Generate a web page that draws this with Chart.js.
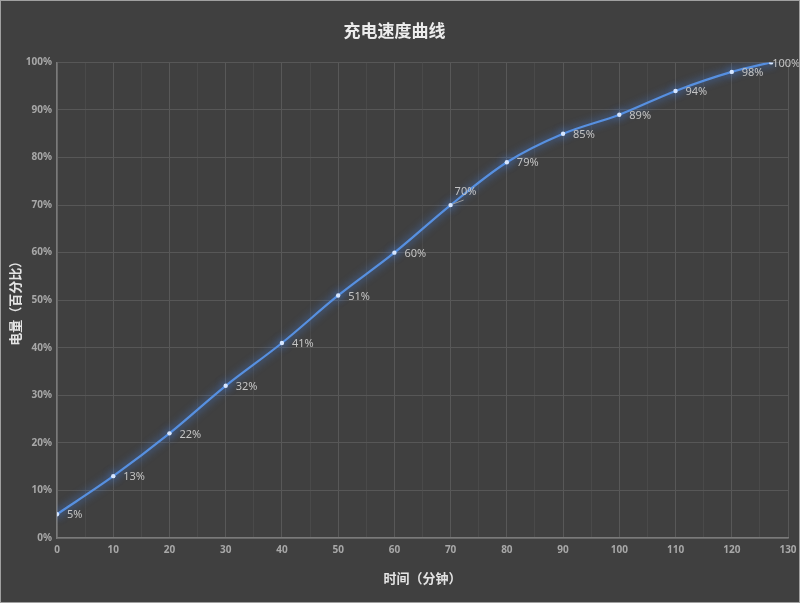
<!DOCTYPE html>
<html>
<head>
<meta charset="utf-8">
<script src="https://cdn.jsdelivr.net/npm/chart.js@4"></script>
<style>
  html, body { margin: 0; padding: 0; background: #404040; }
  #wrap { width: 800px; height: 603px; box-sizing: border-box; border: 1px solid #a0a0a0; }
  canvas { display: block; }
</style>
</head>
<body>
<div id="wrap"><canvas id="chargeChart" width="798" height="601"></canvas></div>
<script>
// Datos del gráfico
const minutes = [0, 10, 20, 30, 40, 50, 60, 70, 80, 90, 100, 110, 120, 127];
const battery = [5, 13, 22, 32, 41, 51, 60, 70, 79, 85, 89, 94, 98, 100];
const xTicks = [0, 10, 20, 30, 40, 50, 60, 70, 80, 90, 100, 110, 120, 130];
const yTicks = [0, 10, 20, 30, 40, 50, 60, 70, 80, 90, 100];

const tickFont = { family: 'Noto Sans', size: 10, weight: 'bold' };
const cjk = 'Noto Sans CJK SC';

/* fondo oscuro */
const bgPlugin = {
    id: 'bg',
    beforeDraw(chart) {
        const c = chart.ctx;
        c.save();
        c.fillStyle = '#404040';
        c.fillRect(0, 0, chart.width, chart.height);
        c.restore();
    }
};

/* brillo de la línea */
const glowPlugin = {
    id: 'glow',
    beforeDatasetDraw(chart) {
        chart.ctx.save();
        chart.ctx.shadowColor = 'rgba(70, 140, 255, 0.9)';
        chart.ctx.shadowBlur = 9;
    },
    afterDatasetDraw(chart) {
        chart.ctx.restore();
    }
};

/* etiquetas de porcentaje */
const labelPlugin = {
    id: 'pctLabels',
    afterDatasetsDraw(chart) {
        const c = chart.ctx;
        const meta = chart.getDatasetMeta(0);
        c.save();
        c.font = '11px "Noto Sans"';
        c.fillStyle = '#c4c4c4';
        c.textBaseline = 'middle';
        c.textAlign = 'left';
        meta.data.forEach((pt, i) => {
            const txt = battery[i] + '%';
            if (battery[i] === 70) {
                c.strokeStyle = '#9a9a9a';
                c.lineWidth = 1;
                c.beginPath();
                c.moveTo(pt.x + 2, pt.y - 1);
                c.lineTo(pt.x + 13, pt.y - 5);
                c.stroke();
                c.fillText(txt, pt.x + 4, pt.y - 13);
            } else if (i === meta.data.length - 1) {
                c.fillText(txt, pt.x + 1, pt.y + 1);
            } else {
                c.fillText(txt, pt.x + 10, pt.y + 1);
            }
        });
        c.restore();
    }
};

const ctx = document.getElementById('chargeChart').getContext('2d');

new Chart(ctx, {
    type: 'line',
    data: {
        datasets: [{
            label: '电量',
            data: minutes.map((m, i) => ({ x: m, y: battery[i] })),
            borderColor: '#5790e0',
            borderWidth: 2.2,
            tension: 0.4,
            cubicInterpolationMode: 'monotone',
            pointRadius: 2.2,
            pointBackgroundColor: '#d6e6ff',
            pointBorderWidth: 0,
            fill: false
        }]
    },
    options: {
        responsive: false,
        animation: false,
        layout: { padding: { left: 0, right: 11, top: 0, bottom: 0 } },
        plugins: {
            legend: { display: false },
            tooltip: { enabled: false },
            title: {
                display: true,
                text: '充电速度曲线',
                color: '#ececec',
                font: { family: cjk, size: 17, weight: 'bold' },
                padding: { top: 19, bottom: 22 }
            }
        },
        scales: {
            x: {
                type: 'linear',
                min: 0,
                max: 130,
                afterBuildTicks: (scale) => {
                    const t = [];
                    for (let v = 0; v <= 130; v += 5) t.push({ value: v });
                    scale.ticks = t;
                },
                afterFit: (scale) => {
                    scale.height = 64;
                    scale.paddingRight = 0;
                },
                ticks: {
                    color: '#a8a8a8',
                    font: tickFont,
                    padding: 6,
                    maxRotation: 0,
                    autoSkip: false,
                    callback: (v) => xTicks.includes(v) ? v : ''
                },
                grid: {
                    drawTicks: false,
                    color: (c) => (c.tick && c.tick.value % 10 === 0) ? '#585858' : '#4a4a4a'
                },
                border: { color: '#7a7a7a', width: 1.5 },
                title: {
                    display: true,
                    text: '时间（分钟）',
                    color: '#e4e4e4',
                    font: { family: cjk, size: 13, weight: 'bold' },
                    padding: { top: 10, bottom: 16 }
                }
            },
            y: {
                min: 0,
                max: 100,
                afterBuildTicks: (scale) => { scale.ticks = yTicks.map(v => ({ value: v })); },
                afterFit: (scale) => { scale.width = 56; },
                ticks: {
                    color: '#a8a8a8',
                    font: tickFont,
                    padding: 5,
                    callback: (v) => v + '%'
                },
                grid: { drawTicks: false, color: '#575757' },
                border: { color: '#7a7a7a', width: 1.5 },
                title: {
                    display: true,
                    text: '电量（百分比）',
                    color: '#e4e4e4',
                    font: { family: cjk, size: 13, weight: 'bold' },
                    padding: { top: 6, bottom: 0 }
                }
            }
        }
    },
    plugins: [bgPlugin, glowPlugin, labelPlugin]
});
</script>
</body>
</html>
